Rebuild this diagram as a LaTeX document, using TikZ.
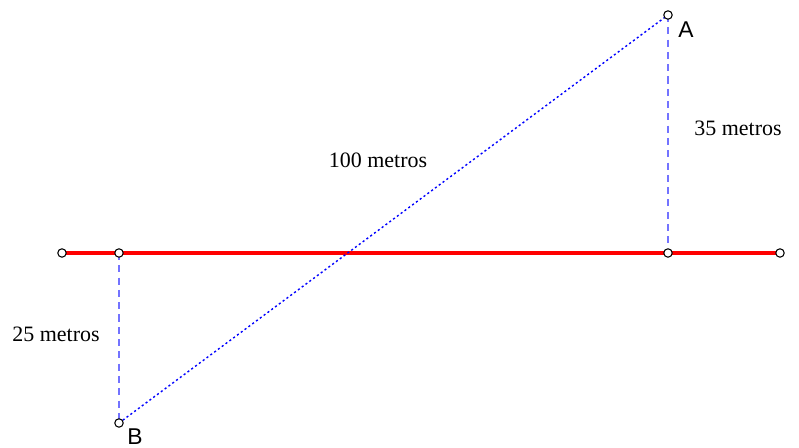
\documentclass[tikz,border=0pt]{standalone}
\usepackage{fontspec}
\setmainfont{Liberation Serif}
\newfontfamily\ptfont{Liberation Sans}
\usetikzlibrary{positioning}
\tikzset{
    pt/.style={circle, draw=black, fill=white, inner sep=0pt, minimum size=4.8pt, line width=0.6pt},
    shore/.style={red, line width=2.3pt},
    perpline/.style={blue!55, line width=0.7pt, dash pattern=on 4pt off 3pt},
    rayline/.style={blue, line width=0.8pt, dash pattern=on 1.2pt off 1.5pt},
    dist/.style={font=\fontsize{12.5}{14}\selectfont},
    ptlabel/.style={font=\ptfont\fontsize{13}{15}\selectfont},
}
\begin{document}
\begin{tikzpicture}[x=0.02cm, y=-0.02cm]
    \useasboundingbox (0,0) rectangle (799,448);
    % points
    \coordinate (L) at (62,253);
    \coordinate (R) at (780,253);
    \coordinate (PB) at (119,253);
    \coordinate (PA) at (668,253);
    \coordinate (A) at (668,15);
    \coordinate (B) at (119,423);
    % lines
    \draw[shore] (L)--(R);
    \draw[perpline] (A)--(PA);
    \draw[perpline] (PB)--(B);
    \draw[rayline] (B)--(A);
    \foreach \p in {L,R,PB,PA,A,B}
        \node[pt] at (\p) {};
    % labels
    \node[ptlabel] (lA) at (686,30) {A};
    \node[ptlabel] (lB) at (135,437) {B};
    \node[dist] (d35) at (738,128) {35 metros};
    \node[dist] (d100) at (378,160) {100 metros};
    \node[dist] (d25) at (56,334) {25 metros};
\end{tikzpicture}
\end{document}
